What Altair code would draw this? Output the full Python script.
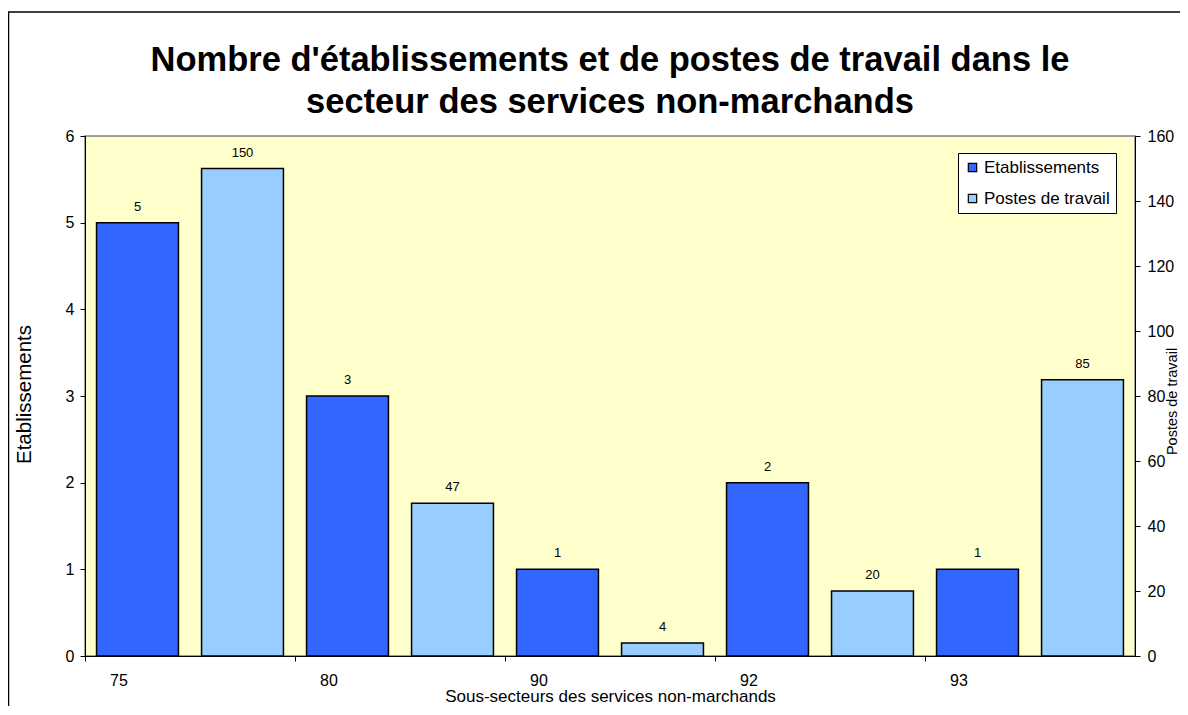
import altair as alt
import pandas as pd

categories = ["75", "80", "90", "92", "93"]
etablissements = [5, 3, 1, 2, 1]
postes = [150, 47, 4, 20, 85]
series = ["Etablissements", "Postes de travail"]
colors = ["#3366FF", "#99CCFF"]

rows = []
for c, e, p in zip(categories, etablissements, postes):
    rows.append({"secteur": c, "serie": series[0], "valeur": e})
    rows.append({"secteur": c, "serie": series[1], "valeur": p})
df = pd.DataFrame(rows)

FONT = "Liberation Sans"

x_enc = alt.X(
    "secteur:N",
    sort=categories,
    scale=alt.Scale(paddingInner=0, paddingOuter=0),
    axis=alt.Axis(
        title="Sous-secteurs des services non-marchands",
        labelAngle=0,
        bandPosition=0,
        labelOffset=-71,
        labelFontSize=16,
        labelPadding=11,
        titleFontSize=17,
        titleFontWeight="normal",
        titlePadding=0,
        tickSize=5,
        tickColor="black",
        domainColor="black",
        labelColor="black",
        titleColor="black",
    ),
)
xo_enc = alt.XOffset(
    "serie:N",
    scale=alt.Scale(domain=series, paddingInner=0.22, paddingOuter=0.11),
)
color_enc = alt.Color(
    "serie:N",
    scale=alt.Scale(domain=series, range=colors),
    legend=alt.Legend(
        title=None,
        orient="none",
        legendX=873,
        legendY=17,
        symbolType="square",
        symbolSize=70,
        symbolStrokeColor="black",
        symbolStrokeWidth=1.2,
        labelFontSize=17,
        labelColor="black",
        labelOffset=3,
        rowPadding=13,
        padding=6,
        strokeColor="black",
        fillColor="white",
        cornerRadius=0,
    ),
)

base = alt.Chart(df)

y_left = alt.Y(
    "valeur:Q",
    scale=alt.Scale(domain=[0, 6]),
    axis=alt.Axis(
        orient="left",
        title="Etablissements",
        values=[0, 1, 2, 3, 4, 5, 6],
        grid=False,
        labelFontSize=16,
        labelPadding=6,
        titleFontSize=20.5,
        titleFontWeight="normal",
        titleAngle=270,
        titleX=-61,
        titleY=258,
        titleBaseline="middle",
        tickSize=5,
        tickColor="black",
        domainColor="black",
        labelColor="black",
        titleColor="black",
    ),
)
y_right = alt.Y(
    "valeur:Q",
    scale=alt.Scale(domain=[0, 160]),
    axis=alt.Axis(
        orient="right",
        title="Postes de travail",
        values=[0, 20, 40, 60, 80, 100, 120, 140, 160],
        grid=False,
        labelFontSize=16,
        labelPadding=7,
        titleFontSize=14.5,
        titleFontWeight="normal",
        titleAngle=270,
        titleX=37,
        titleY=265,
        titleBaseline="middle",
        tickSize=5,
        tickColor="black",
        domainColor="black",
        labelColor="black",
        titleColor="black",
    ),
)

bars1 = base.transform_filter(alt.datum.serie == series[0]).mark_bar(
    stroke="black", strokeWidth=1.5
).encode(x=x_enc, xOffset=xo_enc, y=y_left, color=color_enc)
text1 = base.transform_filter(alt.datum.serie == series[0]).mark_text(
    dy=-16, fontSize=13, font=FONT, color="black"
).encode(x=x_enc, xOffset=xo_enc, y=y_left, text="valeur:Q")

bars2 = base.transform_filter(alt.datum.serie == series[1]).mark_bar(
    stroke="black", strokeWidth=1.5
).encode(x=x_enc, xOffset=xo_enc, y=y_right, color=color_enc)
text2 = base.transform_filter(alt.datum.serie == series[1]).mark_text(
    dy=-16, fontSize=13, font=FONT, color="black"
).encode(x=x_enc, xOffset=xo_enc, y=y_right, text="valeur:Q")

frame = alt.Chart(alt.Data(values=[{}])).mark_rect(
    fill=None, stroke="black", strokeWidth=1.5
).encode(
    x=alt.value(-76.5), x2=alt.value(1200), y=alt.value(-124), y2=alt.value(700)
)

left = alt.layer(bars1, text1)
right = alt.layer(bars2, text2)

chart = alt.layer(left, right, frame).resolve_scale(y="independent").properties(
    width=1050,
    height=520,
    autosize=alt.AutoSizeParams(type="none"),
    padding={"left": 77, "top": 128, "right": 45, "bottom": 50},
    title=alt.TitleParams(
        text=["Nombre d'établissements et de postes de travail dans le",
              "secteur des services non-marchands"],
        fontSize=34.5,
        fontWeight="bold",
        font=FONT,
        color="black",
        anchor="middle",
        lineHeight=42,
        offset=22,
        dy=131,
    ),
).configure(
    font=FONT,
    background="white",
).configure_view(
    fill="#FFFFCC",
    stroke="#808080",
    strokeWidth=1.5,
)

chart.save("out.html", embed_options={"renderer": "svg", "actions": False})
